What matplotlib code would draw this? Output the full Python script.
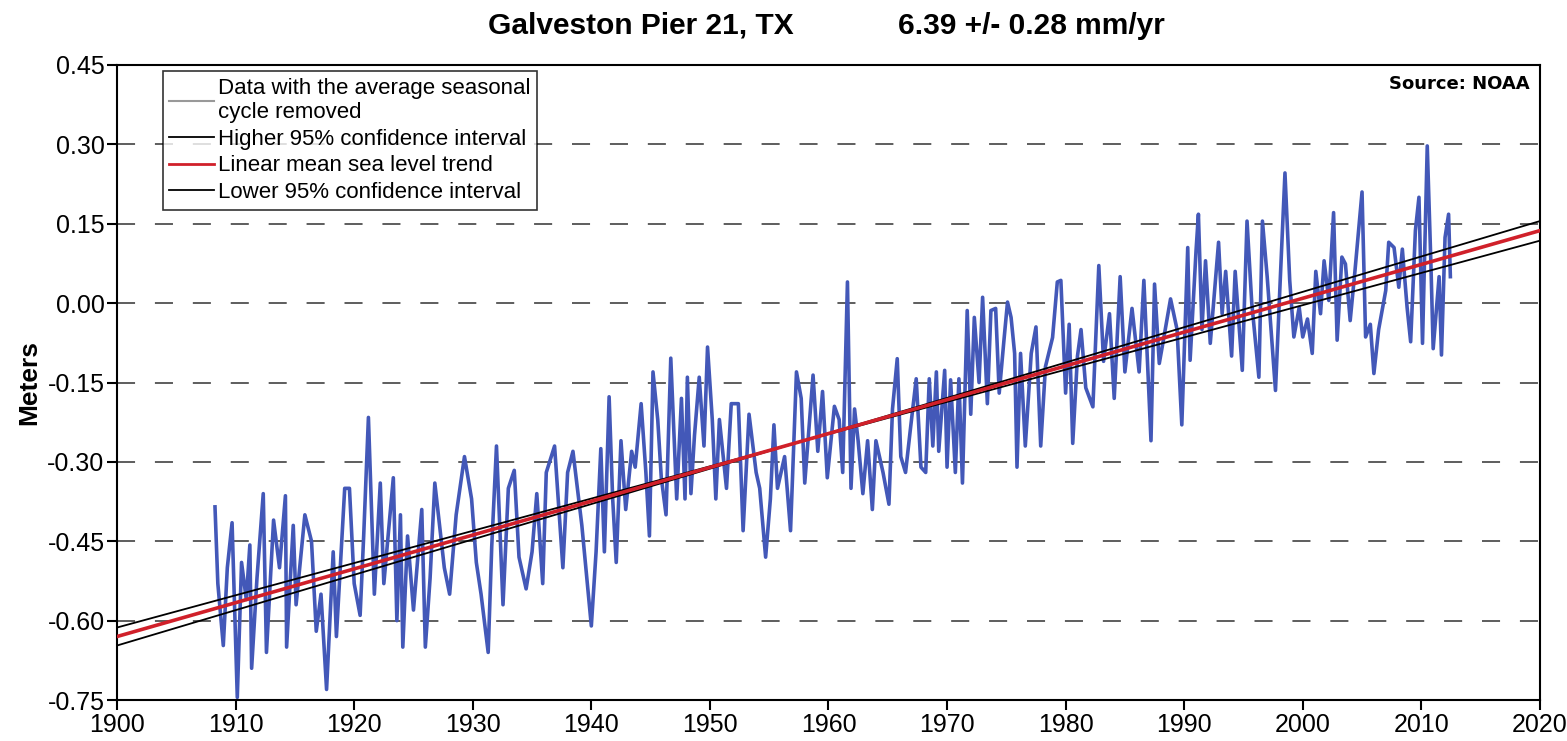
import matplotlib
matplotlib.use("Agg")
import matplotlib.pyplot as plt
from matplotlib import font_manager

# monthly mean sea level, seasonal cycle removed
years = [
    1908.26, 1908.5, 1908.96, 1909.3, 1909.7, 1910.14, 1910.5, 1910.9, 1911.2, 1911.35,
    1911.8, 1912.33, 1912.6, 1913.2, 1913.7, 1914.2, 1914.3, 1914.86, 1915.1, 1915.84,
    1916.4, 1916.8, 1917.2, 1917.67, 1918.23, 1918.5, 1919.2, 1919.6, 1920.0, 1920.5,
    1920.8, 1921.2, 1921.7, 1922.2, 1922.5, 1923.3, 1923.6, 1923.9,
    1924.1, 1924.5, 1925.0, 1925.7, 1926.0, 1926.4, 1926.8, 1927.2, 1927.6, 1928.05,
    1928.6, 1929.3, 1929.9, 1930.3, 1930.7, 1931.3, 1931.6, 1932.0, 1932.55, 1933.0,
    1933.5, 1933.9, 1934.5, 1935.0, 1935.4, 1935.9, 1936.2, 1936.9, 1937.3, 1937.6,
    1938.0, 1938.45, 1939.2, 1940.0, 1940.4, 1940.8, 1941.1, 1941.5, 1941.8, 1942.1,
    1942.5,
    1942.9, 1943.4, 1943.7, 1944.2, 1944.6, 1944.9, 1945.2, 1945.6, 1945.9, 1946.3,
    1946.7, 1947.2, 1947.6, 1947.9, 1948.1, 1948.4, 1948.7, 1949.1, 1949.5, 1949.8,
    1950.2, 1950.5, 1950.8, 1951.4, 1951.8, 1952.4, 1952.8, 1953.3, 1953.9, 1954.2,
    1954.7, 1955.1, 1955.4, 1955.7, 1956.3, 1956.8, 1957.3, 1957.7, 1958.0, 1958.7,
    1959.1, 1959.5, 1959.9, 1960.5, 1960.9,
    1961.2, 1961.6, 1961.9, 1962.2, 1962.5, 1962.9, 1963.3, 1963.7, 1964.0, 1964.6,
    1965.1, 1965.4, 1965.8, 1966.1, 1966.5, 1966.9, 1967.4, 1967.8, 1968.2, 1968.5,
    1968.8, 1969.1, 1969.3, 1969.8, 1970.0, 1970.3, 1970.7, 1971.0, 1971.3, 1971.7,
    1972.0, 1972.3, 1972.7, 1973.0, 1973.4, 1973.7, 1974.1, 1974.4, 1974.8, 1975.1,
    1975.4, 1975.7, 1975.9, 1976.2, 1976.6, 1977.1, 1977.5, 1977.9, 1978.3, 1978.9,
    1979.3,
    1979.6, 1980.0, 1980.3, 1980.6, 1981.0, 1981.3, 1981.7, 1982.3, 1982.8, 1983.2,
    1983.7, 1984.1, 1984.6, 1985.0, 1985.6, 1986.2, 1986.6, 1987.2, 1987.5, 1987.9,
    1988.2, 1988.85, 1989.4, 1989.8, 1990.3, 1990.5, 1991.0, 1991.2, 1991.5, 1991.8,
    1992.2, 1992.9, 1993.2, 1993.5, 1994.0, 1994.3, 1994.9, 1995.3, 1995.7, 1996.3,
    1996.6, 1997.0, 1997.7, 1998.1, 1998.5, 1998.9,
    1999.25, 1999.7, 2000.0, 2000.4, 2000.8, 2001.1, 2001.5, 2001.8, 2002.2, 2002.6,
    2002.9, 2003.3, 2003.6, 2004.0, 2004.4, 2005.0, 2005.3, 2005.7, 2006.0, 2006.4,
    2007.0, 2007.25, 2007.7, 2008.1, 2008.4, 2008.8, 2009.1, 2009.5, 2009.8, 2010.1,
    2010.5, 2010.8, 2011.0, 2011.5, 2011.7, 2012.0, 2012.3, 2012.45,
]
msl = [
    -0.385, -0.53, -0.647, -0.50, -0.415, -0.745, -0.49, -0.56, -0.457, -0.69,
    -0.52, -0.36, -0.66, -0.41, -0.50, -0.364, -0.65, -0.42, -0.57, -0.40,
    -0.45, -0.62, -0.55, -0.73, -0.47, -0.63, -0.35, -0.35, -0.53, -0.59,
    -0.44, -0.216, -0.55, -0.34, -0.53, -0.33, -0.60, -0.40,
    -0.65, -0.44, -0.58, -0.39, -0.65, -0.52, -0.34, -0.42, -0.50, -0.55,
    -0.40, -0.29, -0.37, -0.49, -0.55, -0.66, -0.46, -0.27, -0.57, -0.35,
    -0.316, -0.48, -0.54, -0.47, -0.36, -0.53, -0.32, -0.27, -0.40, -0.50,
    -0.32, -0.28, -0.42, -0.61, -0.47, -0.275, -0.47, -0.177, -0.37, -0.49,
    -0.26,
    -0.39, -0.28, -0.31, -0.19, -0.32, -0.44, -0.13, -0.22, -0.33, -0.40,
    -0.104, -0.37, -0.18, -0.37, -0.14, -0.36, -0.25, -0.14, -0.27, -0.083,
    -0.22, -0.37, -0.22, -0.35, -0.19, -0.19, -0.43, -0.21, -0.32, -0.35,
    -0.48, -0.37, -0.23, -0.35, -0.29, -0.43, -0.13, -0.18, -0.34, -0.136,
    -0.28, -0.167, -0.33, -0.195, -0.22,
    -0.32, 0.04, -0.35, -0.20, -0.26, -0.36, -0.26, -0.39, -0.26, -0.32,
    -0.38, -0.20, -0.105, -0.29, -0.32, -0.24, -0.143, -0.31, -0.32, -0.143,
    -0.27, -0.13, -0.28, -0.127, -0.31, -0.145, -0.32, -0.143, -0.34, -0.014,
    -0.21, -0.027, -0.15, 0.011, -0.19, -0.014, -0.01, -0.17, -0.07, 0.002,
    -0.027, -0.095, -0.31, -0.095, -0.27, -0.095, -0.045, -0.27, -0.12, -0.065,
    0.04,
    0.043, -0.17, -0.04, -0.265, -0.10, -0.05, -0.16, -0.196, 0.071, -0.11,
    -0.02, -0.18, 0.05, -0.13, -0.01, -0.13, 0.043, -0.26, 0.036, -0.114,
    -0.076, 0.008, -0.05, -0.23, 0.105, -0.108, 0.099, 0.168, -0.05, 0.08,
    -0.076, 0.115, -0.02, 0.06, -0.10, 0.06, -0.127, 0.155, 0.0, -0.14,
    0.155, 0.05, -0.165, 0.043, 0.246, 0.043,
    -0.064, -0.008, -0.064, -0.03, -0.095, 0.06, -0.02, 0.08, 0.005, 0.171,
    -0.07, 0.087, 0.074, -0.033, 0.06, 0.21, -0.064, -0.04, -0.133, -0.05,
    0.024, 0.115, 0.105, 0.03, 0.102, -0.008, -0.073, 0.137, 0.2, -0.076,
    0.297, 0.08, -0.086, 0.05, -0.098, 0.124, 0.168, 0.05,
]

# trend lines, end points at 1900 and 2020
trend_years = [1900, 2020]
trend_mid = [-0.630, 0.137]
ci_high = [-0.647, 0.155]
ci_low = [-0.613, 0.118]

y_ticks = [-0.75, -0.60, -0.45, -0.30, -0.15, 0.00, 0.15, 0.30, 0.45]
x_ticks = list(range(1900, 2021, 10))

names = {f.name for f in font_manager.fontManager.ttflist}
font = "Liberation Sans Narrow" if "Liberation Sans Narrow" in names else "Liberation Sans"
plt.rcParams["font.family"] = [font, "DejaVu Sans"]

fig = plt.figure(figsize=(15.67, 7.41), dpi=100)
ax = fig.add_axes([0.0747, 0.0553, 0.908, 0.857])

for y in y_ticks[1:-1]:
    ax.axhline(y, color="#505050", lw=1.3, ls=(0, (10, 11)), zorder=1)

ax.plot(years, msl, color="#4358b8", lw=2.6, zorder=2)
ax.plot(trend_years, ci_high, color="black", lw=1.3, zorder=3)
ax.plot(trend_years, trend_mid, color="#d0202a", lw=2.6, zorder=4)
ax.plot(trend_years, ci_low, color="black", lw=1.3, zorder=3)

ax.set_xlim(1900, 2020)
ax.set_ylim(-0.75, 0.45)
ax.set_xticks(x_ticks)
ax.set_yticks(y_ticks)
ax.set_yticklabels([f"{v:.2f}" for v in y_ticks])
ax.tick_params(direction="out", length=7, width=1.5, labelsize=18, pad=2)
for s in ax.spines.values():
    s.set_linewidth(1.5)
ax.set_ylabel("Meters", fontsize=19, fontweight="bold", labelpad=4)

ax.text(0.993, 0.985, "Source: NOAA", transform=ax.transAxes, ha="right", va="top",
        fontsize=13, fontweight="bold", family="DejaVu Sans")

fig.text(0.409, 0.965, "Galveston Pier 21, TX", ha="center", va="center",
         fontsize=21.5, fontweight="bold")
fig.text(0.658, 0.965, "6.39 +/- 0.28 mm/yr", ha="center", va="center",
         fontsize=21.5, fontweight="bold")

handles = [
    plt.Line2D([], [], color="#999999", lw=1.5),
    plt.Line2D([], [], color="black", lw=1.3),
    plt.Line2D([], [], color="#d0202a", lw=2.0),
    plt.Line2D([], [], color="black", lw=1.3),
]
labels = [
    "Data with the average seasonal\ncycle removed",
    "Higher 95% confidence interval",
    "Linear mean sea level trend",
    "Lower 95% confidence interval",
]
leg = ax.legend(handles, labels, loc="upper left", bbox_to_anchor=(0.032, 0.99),
                fontsize=16, frameon=True, fancybox=False, handlelength=2.0,
                handletextpad=0.2, labelspacing=0.25, borderpad=0.3, borderaxespad=0)
leg.get_frame().set_edgecolor("black")
leg.get_frame().set_linewidth(1.2)

fig.savefig("out.png", dpi=100)
